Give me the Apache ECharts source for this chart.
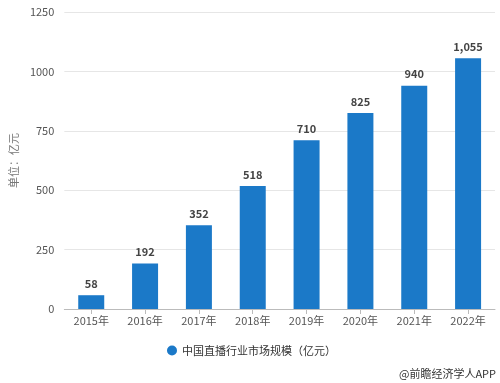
<!DOCTYPE html>
<html><head><meta charset="utf-8">
<script src="https://cdn.jsdelivr.net/npm/echarts@6/dist/echarts.min.js"></script>
<style>html,body{margin:0;padding:0;background:#fff}#c{width:500px;height:383px}</style>
</head><body><div id="c"></div>
<script>
const categories = ['2015年','2016年','2017年','2018年','2019年','2020年','2021年','2022年'];
const values = [58,192,352,518,710,825,940,1055];
const yTicks = [0,250,500,750,1000,1250];
const seriesName = '中国直播行业市场规模（亿元）';
const chart = echarts.init(document.getElementById('c'));
const font = '"Microsoft YaHei","Noto Sans CJK SC",sans-serif';
chart.setOption({
  animation:false,
  textStyle:{fontFamily:font},
  grid:{left:60,right:5,top:12,bottom:74},
  legend:{bottom:22,left:162,itemWidth:10,itemHeight:10,icon:'circle',
    textStyle:{fontSize:11,color:'#333',fontFamily:font},data:[seriesName]},
  graphic:[{type:'text',right:4,bottom:4,style:{text:'@前瞻经济学人APP',fontSize:11,fill:'#333',fontFamily:font}}],
  xAxis:{type:'category',data:categories,
    axisLine:{lineStyle:{color:'#bbb'}},axisTick:{show:true,alignWithLabel:true,lineStyle:{color:'#bbb'}},
    axisLabel:{color:'#555',fontSize:11,margin:6}},
  yAxis:{type:'value',min:yTicks[0],max:yTicks[yTicks.length-1],interval:250,
    name:'单位：亿元',nameLocation:'middle',nameGap:42,nameRotate:90,
    nameTextStyle:{color:'#777',fontSize:11},
    axisLine:{show:false},axisTick:{show:false},
    axisLabel:{color:'#555',fontSize:11,margin:10,formatter:v=>String(v)},
    splitLine:{lineStyle:{color:'#e6e6e6'}}},
  series:[{name:seriesName,type:'bar',data:values,barWidth:26,
    itemStyle:{color:'#1b79c8'},
    label:{show:true,position:'top',distance:6,fontWeight:'bold',fontSize:11,color:'#444',
      formatter:p=>p.value.toLocaleString('en-US')}}]
});
</script></body></html>
